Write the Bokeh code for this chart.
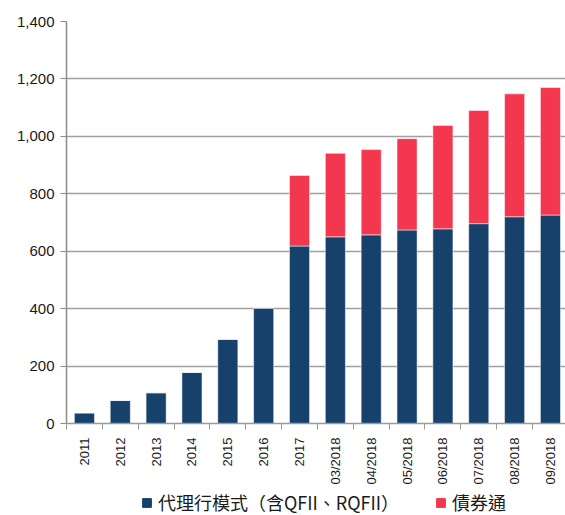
import math
from bokeh.plotting import figure
from bokeh.layouts import column
from bokeh.models import (Range1d, FixedTicker, NumeralTickFormatter, Legend,
                          LegendItem, ColumnDataSource)
from bokeh.embed import file_html
from bokeh.resources import INLINE

# Periods and holdings (RMB bn) by access channel
periods = ["2011", "2012", "2013", "2014", "2015", "2016", "2017",
           "03/2018", "04/2018", "05/2018", "06/2018", "07/2018", "08/2018", "09/2018"]
agent_bank = [37, 80, 107, 178, 293, 402, 618, 650, 657, 674, 678, 696, 720, 726]
bond_connect = [0, 0, 0, 0, 0, 0, 246, 291, 297, 318, 360, 394, 428, 444]
y_ticks = [0, 200, 400, 600, 800, 1000, 1200, 1400]

series_names = ["代理行模式（含QFII、RQFII）", "債券通"]
colors = ["#15416b", "#f3374e"]

centers = [i + 0.5 for i in range(len(periods))]
src = ColumnDataSource(dict(x=centers, agent=agent_bank, bond=bond_connect))

p = figure(width=565, height=487, output_backend="svg", toolbar_location=None,
           x_range=Range1d(0, 13.92), y_range=Range1d(0, 1400),
           min_border_left=66, min_border_top=21, min_border_right=0,
           min_border_bottom=63)
p.outline_line_color = None

renderers = p.vbar_stack(["agent", "bond"], x="x", width=0.56, source=src,
                         color=colors, line_color="white", line_alpha=0.5,
                         line_width=1)

# y axis
p.yaxis.ticker = FixedTicker(ticks=y_ticks)
p.yaxis.formatter = NumeralTickFormatter(format="0,0")
p.yaxis.axis_line_color = "#8c8c8c"
p.yaxis.axis_line_width = 1.5
p.yaxis.major_tick_line_color = "#8c8c8c"
p.yaxis.major_tick_in = 0
p.yaxis.major_tick_out = 6
p.yaxis.minor_tick_line_color = None
p.yaxis.major_label_text_font = "Liberation Sans"
p.yaxis.major_label_text_font_size = "15px"
p.yaxis.major_label_text_color = "#1a1a1a"
p.yaxis.major_label_standoff = 6

# x axis: labels centred on bars, tick marks between categories
p.xaxis.ticker = FixedTicker(ticks=centers, minor_ticks=list(range(len(periods) + 1)))
p.xaxis.major_label_overrides = {c: lab for c, lab in zip(centers, periods)}
p.xaxis.major_label_orientation = math.pi / 2
p.xaxis.major_label_text_font = "Liberation Sans"
p.xaxis.major_label_text_font_size = "13px"
p.xaxis.major_label_text_color = "#1a1a1a"
p.xaxis.major_label_standoff = 8
p.xaxis.major_tick_in = 0
p.xaxis.major_tick_out = 0
p.xaxis.minor_tick_in = 0
p.xaxis.minor_tick_out = 6
p.xaxis.minor_tick_line_color = "#9a9a9a"
p.xaxis.axis_line_color = "#9a9a9a"
p.xaxis.axis_line_width = 1.5

p.xgrid.grid_line_color = None
p.ygrid.ticker = FixedTicker(ticks=y_ticks)
p.ygrid.grid_line_color = "#a0a0a0"
p.ygrid.grid_line_width = 1.5

# legend strip under the chart; swatch renderers are zero-height bars off-range
lg = figure(width=565, height=28, output_backend="svg", toolbar_location=None,
            x_range=Range1d(0, 1), y_range=Range1d(0, 1),
            min_border=0, x_axis_location=None, y_axis_location=None)
lg.outline_line_color = None
lg.xgrid.visible = False
lg.ygrid.visible = False
swatches = [lg.vbar(x=[-1], top=[0], bottom=[0], width=0.5, color=c) for c in colors]

legend = Legend(items=[LegendItem(label=name, renderers=[r])
                       for name, r in zip(series_names, swatches)],
                orientation="horizontal", location=(75, 0),
                label_text_font="Noto Sans CJK TC", label_text_font_size="18px",
                label_text_color="#1a1a1a", label_standoff=6, label_height=16,
                glyph_width=11, glyph_height=11, spacing=36, padding=0, margin=0,
                border_line_alpha=0, background_fill_alpha=0)
lg.add_layout(legend, "center")

layout = column(p, lg, spacing=0)
open("out.html", "w").write(file_html(layout, INLINE))
